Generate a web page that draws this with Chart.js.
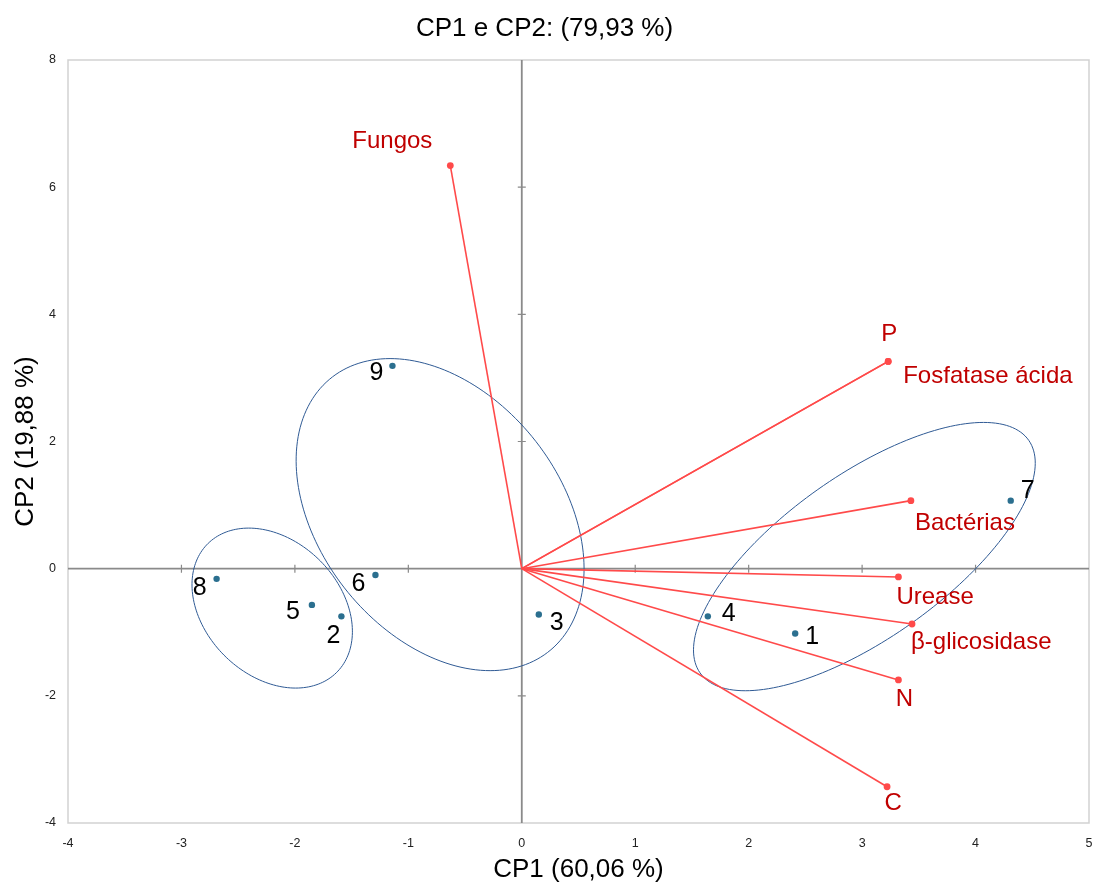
<!DOCTYPE html>
<html lang="pt">
<head>
<meta charset="utf-8">
<title>CP1 e CP2</title>
<script src="https://cdn.jsdelivr.net/npm/chart.js@4/dist/chart.umd.min.js"></script>
<style>
  html, body { margin: 0; padding: 0; background: #ffffff; }
  #wrap { width: 1097px; height: 888px; }
</style>
</head>
<body>
<div id="wrap"><canvas id="pca" width="1097" height="888"></canvas></div>
<script>
// Scores of the nine samples on the first two principal components
const scoreLabels = ['1', '2', '3', '4', '5', '6', '7', '8', '9'];
const scoreCP1 = [2.41, -1.59, 0.15, 1.64, -1.85, -1.29, 4.31, -2.69, -1.14];
const scoreCP2 = [-1.02, -0.75, -0.72, -0.75, -0.57, -0.10, 1.07, -0.16, 3.19];

// Variable loadings (vectors from the origin)
const variableNames = ['Fungos', 'P', 'Fosfatase ácida', 'Bactérias', 'Urease', 'β-glicosidase', 'N', 'C'];
const loadCP1 = [-0.63, 3.23, 3.23, 3.43, 3.32, 3.44, 3.32, 3.22];
const loadCP2 = [6.34, 3.26, 3.26, 1.07, -0.13, -0.87, -1.75, -3.43];

// Group ellipses: centre and two conjugate half-axes, in CP units
const ellipseCenterCP1 = [-2.20, -0.72, 3.02];
const ellipseCenterCP2 = [-0.62, 0.85, 0.19];
const ellipseAxisU = [[0.676, 0], [1.19, 0], [1.08, 0]];
const ellipseAxisV = [[-0.207, 1.258], [-0.441, 2.454], [1.05, 2.11]];

// Axis ranges and tick steps
const xTicks = { min: -4, max: 5, step: 1 };
const yTicks = { min: -4, max: 8, step: 2 };

// Text offsets (px) of each label relative to its mark
const scoreLabelOffset = {
  '1': [17, 4], '2': [-8, 20], '3': [18, 9], '4': [21, -2], '5': [-19, 7],
  '6': [-17, 9], '7': [17, -10], '8': [-17, 9], '9': [-16, 7]
};
const variableLabelStyle = {
  'Fungos': { dx: -58, dy: -24, align: 'center' },
  'P': { dx: 1, dy: -27, align: 'center' },
  'Fosfatase ácida': { dx: 15, dy: 15, align: 'left' },
  'Bactérias': { dx: 4, dy: 23, align: 'left' },
  'Urease': { dx: -2, dy: 20, align: 'left' },
  'β-glicosidase': { dx: -1, dy: 18, align: 'left' },
  'N': { dx: 6, dy: 19, align: 'center' },
  'C': { dx: 6, dy: 17, align: 'center' }
};

const FONT = '"Liberation Sans", Arial, sans-serif';
const RED_LINE = '#ff4a4a';
const RED_TEXT = '#c00000';
const BLUE_POINT = '#2b6f8f';
const ELLIPSE_COLOR = '#2f5a94';

const vectorDatasets = variableNames.map((name, i) => ({
  label: name,
  data: [{ x: 0, y: 0 }, { x: loadCP1[i], y: loadCP2[i] }],
  showLine: true,
  borderColor: RED_LINE,
  borderWidth: 1.6,
  backgroundColor: RED_LINE,
  pointBackgroundColor: RED_LINE,
  pointBorderWidth: 0,
  pointRadius: [0, 3.4],
  order: 2
}));

const scoreDataset = {
  label: 'Amostras',
  data: scoreLabels.map((l, i) => ({ x: scoreCP1[i], y: scoreCP2[i], name: l })),
  showLine: false,
  pointBackgroundColor: BLUE_POINT,
  backgroundColor: BLUE_POINT,
  pointBorderWidth: 0,
  pointRadius: 3.2,
  order: 1
};

// Frame, zero axes with small tick crosses, and group ellipses
const backdrop = {
  id: 'backdrop',
  beforeDatasetsDraw(chart) {
    const { ctx, chartArea: a, scales: { x, y } } = chart;
    ctx.save();
    ctx.strokeStyle = '#d2d2d2';
    ctx.lineWidth = 1.5;
    ctx.strokeRect(a.left, a.top, a.right - a.left, a.bottom - a.top);

    const x0 = x.getPixelForValue(0);
    const y0 = y.getPixelForValue(0);
    ctx.strokeStyle = '#8a8a8a';
    ctx.lineWidth = 1.8;
    ctx.beginPath();
    ctx.moveTo(a.left, y0); ctx.lineTo(a.right, y0);
    ctx.moveTo(x0, a.top); ctx.lineTo(x0, a.bottom);
    ctx.stroke();
    ctx.lineWidth = 1.2;
    ctx.beginPath();
    for (let v = xTicks.min + xTicks.step; v < xTicks.max; v += xTicks.step) {
      if (v === 0) continue;
      const px = x.getPixelForValue(v);
      ctx.moveTo(px, y0 - 4); ctx.lineTo(px, y0 + 4);
    }
    for (let v = yTicks.min + yTicks.step; v < yTicks.max; v += yTicks.step) {
      if (v === 0) continue;
      const py = y.getPixelForValue(v);
      ctx.moveTo(x0 - 4, py); ctx.lineTo(x0 + 4, py);
    }
    ctx.stroke();

    ctx.strokeStyle = ELLIPSE_COLOR;
    ctx.lineWidth = 1;
    for (let e = 0; e < ellipseCenterCP1.length; e++) {
      const cx = ellipseCenterCP1[e], cy = ellipseCenterCP2[e];
      const u = ellipseAxisU[e], v = ellipseAxisV[e];
      ctx.beginPath();
      const n = 180;
      for (let k = 0; k <= n; k++) {
        const t = (k / n) * Math.PI * 2;
        const px = x.getPixelForValue(cx + u[0] * Math.cos(t) + v[0] * Math.sin(t));
        const py = y.getPixelForValue(cy + u[1] * Math.cos(t) + v[1] * Math.sin(t));
        if (k === 0) ctx.moveTo(px, py); else ctx.lineTo(px, py);
      }
      ctx.closePath();
      ctx.stroke();
    }
    ctx.restore();
  },
  afterDatasetsDraw(chart) {
    const { ctx, scales: { x, y } } = chart;
    ctx.save();
    ctx.textBaseline = 'middle';
    ctx.fillStyle = RED_TEXT;
    ctx.font = '24px ' + FONT;
    variableNames.forEach((name, i) => {
      const s = variableLabelStyle[name];
      ctx.textAlign = s.align;
      ctx.fillText(name, x.getPixelForValue(loadCP1[i]) + s.dx, y.getPixelForValue(loadCP2[i]) + s.dy);
    });
    ctx.fillStyle = '#000000';
    ctx.font = '25px ' + FONT;
    ctx.textAlign = 'center';
    scoreLabels.forEach((name, i) => {
      const o = scoreLabelOffset[name];
      ctx.fillText(name, x.getPixelForValue(scoreCP1[i]) + o[0], y.getPixelForValue(scoreCP2[i]) + o[1]);
    });
    ctx.restore();
  }
};

new Chart(document.getElementById('pca'), {
  type: 'scatter',
  data: { datasets: [...vectorDatasets, scoreDataset] },
  plugins: [backdrop],
  options: {
    responsive: false,
    animation: false,
    layout: { padding: { left: 0, right: 8, top: 0, bottom: 0 } },
    plugins: {
      legend: { display: false },
      tooltip: { enabled: false },
      title: {
        display: true,
        text: 'CP1 e CP2: (79,93 %)',
        color: '#000000',
        font: { family: FONT, size: 26, weight: 'normal', lineHeight: 1.2 },
        padding: { top: 13, bottom: 15.8 }
      }
    },
    scales: {
      x: {
        type: 'linear',
        min: xTicks.min,
        max: xTicks.max,
        grid: { display: false, drawTicks: false },
        border: { display: false },
        ticks: {
          stepSize: xTicks.step,
          padding: 13,
          color: '#222222',
          font: { family: FONT, size: 12.5 }
        },
        title: {
          display: true,
          text: 'CP1 (60,06 %)',
          color: '#000000',
          font: { family: FONT, size: 26, lineHeight: 1.2 },
          padding: { top: 0, bottom: 3 }
        },
        afterFit(scale) {
          scale.height = 65;
          scale.paddingLeft = 0;
          scale.paddingRight = 0;
        }
      },
      y: {
        type: 'linear',
        min: yTicks.min,
        max: yTicks.max,
        grid: { display: false, drawTicks: false },
        border: { display: false },
        ticks: {
          stepSize: yTicks.step,
          padding: 12,
          color: '#222222',
          font: { family: FONT, size: 12.5 }
        },
        title: {
          display: true,
          text: 'CP2 (19,88 %)',
          color: '#000000',
          font: { family: FONT, size: 26, lineHeight: 1.2 },
          padding: { top: 10, bottom: 0 }
        },
        afterFit(scale) { scale.width = 68; }
      }
    }
  }
});
</script>
</body>
</html>
